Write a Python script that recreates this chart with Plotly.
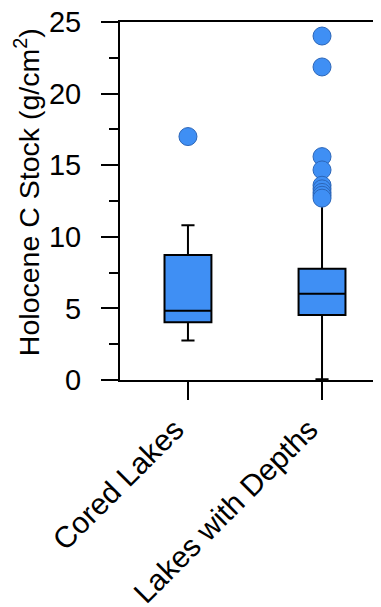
import plotly.graph_objects as go

categories = ["Cored Lakes", "Lakes with Depths"]
q1 = [4.03, 4.54]
median = [4.84, 6.03]
q3 = [8.73, 7.77]
lowerfence = [2.75, 0.05]
upperfence = [10.8, 12.57]

outliers_cored = [17.0]
outliers_depths = [24.02, 21.86, 15.6, 14.67, 13.6, 13.35, 13.1, 12.9, 12.7]

y_ticks = [0, 5, 10, 15, 20, 25]

BLUE = "#3f8ff4"
EDGE = "#2c66b8"

fig = go.Figure()
fig.add_trace(go.Box(
    x=categories, q1=q1, median=median, q3=q3,
    lowerfence=lowerfence, upperfence=upperfence,
    boxpoints=False, fillcolor=BLUE,
    line=dict(color="black", width=2), whiskerwidth=0.28,
    showlegend=False, hoverinfo="skip",
))
fig.add_trace(go.Scatter(
    x=[categories[0]] * len(outliers_cored) + [categories[1]] * len(outliers_depths),
    y=outliers_cored + outliers_depths,
    mode="markers",
    marker=dict(size=18, color=BLUE, line=dict(color=EDGE, width=1)),
    showlegend=False, hoverinfo="skip", cliponaxis=False,
))

font = "Liberation Sans, Arial, sans-serif"
fig.update_layout(
    width=373, height=599,
    margin=dict(l=112, r=0, t=14, b=227),
    plot_bgcolor="white", paper_bgcolor="white",
    boxgap=0.5,
    font=dict(family=font, color="black", size=28),
    annotations=[dict(
        text="Holocene C Stock (g/cm<sup>2</sup>)", textangle=-90,
        xref="paper", yref="paper", x=-0.356, y=0.525,
        xanchor="center", yanchor="middle", showarrow=False,
        font=dict(size=28.5, family=font, color="black"),
    )],
)
fig.update_xaxes(
    type="category", range=[-0.507, 1.44], automargin=False,
    showline=True, linecolor="black", linewidth=2, mirror=True,
    ticks="outside", ticklen=18, tickwidth=2, tickcolor="black",
    tickangle=-45, tickfont=dict(size=30, family=font),
    ticklabelstandoff=0, ticklabelshift=-13, ticklabeloverflow="allow",
    showgrid=False, zeroline=False,
)
fig.update_yaxes(
    range=[0, 25], tickvals=y_ticks, automargin=False,
    showline=True, linecolor="black", linewidth=2,
    ticks="outside", ticklen=17, tickwidth=2, tickcolor="black",
    minor=dict(dtick=2.5, tick0=0, ticks="outside", ticklen=9, tickwidth=2, tickcolor="black", showgrid=False),
    tickfont=dict(size=29, family=font), ticklabelstandoff=14, ticklabeloverflow="allow",
    showgrid=False, zeroline=False,
)

fig.write_html("out.html")
